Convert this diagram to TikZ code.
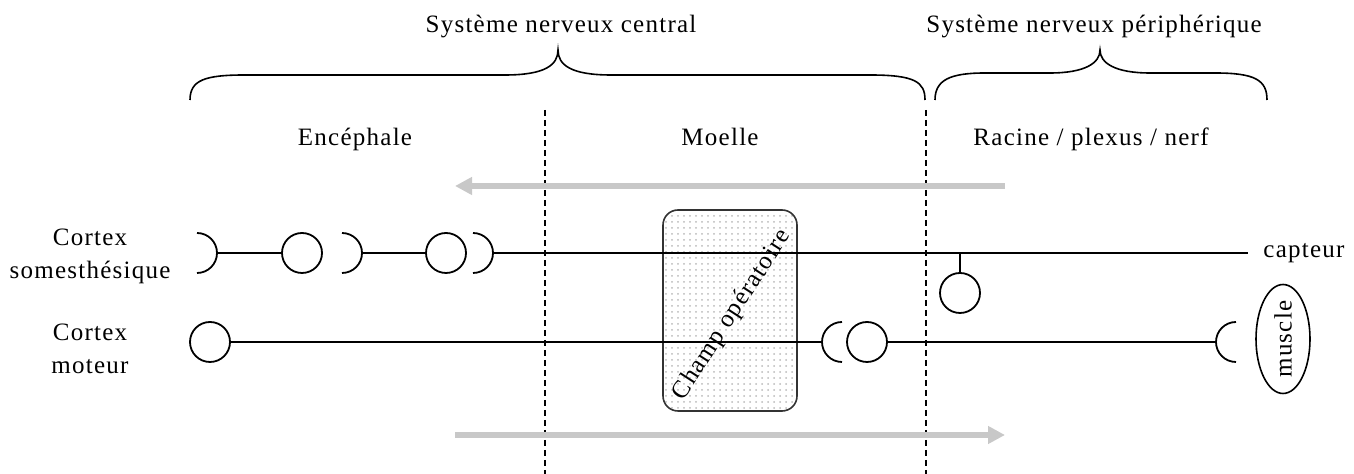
\documentclass[tikz,border=0pt]{standalone}
\usepackage{fontspec}
\setmainfont{Liberation Serif}[LetterSpace=5]
\usetikzlibrary{arrows.meta,patterns,shapes.geometric}
\definecolor{flowgray}{RGB}{200,200,200}
\begin{document}
\begin{tikzpicture}[x=0.5pt,y=-0.5pt,
  font=\fontsize{12.5}{16.5}\selectfont,
  neuron/.style={circle,draw,line width=0.9pt,minimum size=20pt,inner sep=0pt},
  axon/.style={line width=0.9pt},
  synapse/.style={line width=0.9pt},
  flow/.style={draw=flowgray,line width=3pt,-{Triangle[length=8.5pt,width=8.5pt]}},
  border/.style={dash pattern=on 3pt off 2pt,line width=0.6pt},
  bracepath/.style={line width=0.8pt},
  lbl/.style={inner sep=0pt}]
\useasboundingbox (0,0) rectangle (1354,474);

% titles
\node[lbl,anchor=base] (snc) at (561,33) {Système nerveux central};
\node[lbl,anchor=base] (snp) at (1094,33) {Système nerveux périphérique};
\node[lbl,anchor=base] (enc) at (355,146) {Encéphale};
\node[lbl,anchor=base] (moe) at (720,146) {Moelle};
\node[lbl,anchor=base] (rac) at (1091,146) {Racine / plexus / nerf};

% braces
\draw[bracepath] (190,100) .. controls (190,80) and (205,75) .. (245,75) -- (505,75)
  .. controls (545,75) and (558,65) .. (558,50)
  .. controls (558,65) and (571,75) .. (611,75) -- (870,75)
  .. controls (915,75) and (925,82) .. (925,100);
\draw[bracepath] (935,100) .. controls (935,80) and (950,73) .. (985,73) -- (1050,73)
  .. controls (1085,73) and (1100,63) .. (1100,50)
  .. controls (1100,63) and (1115,73) .. (1150,73) -- (1215,73)
  .. controls (1255,73) and (1267,80) .. (1267,100);

% boundaries
\coordinate (d1t) at (545,110); \coordinate (d1b) at (545,474);
\coordinate (d2t) at (926,110); \coordinate (d2b) at (926,474);
\draw[border] (d1t) -- (d1b);
\draw[border] (d2t) -- (d2b);

% flows
\coordinate (ft1) at (1005,186); \coordinate (fh1) at (455,186);
\coordinate (ft2) at (455,435); \coordinate (fh2) at (1005,435);
\draw[flow] (ft1) -- (fh1);
\draw[flow] (ft2) -- (fh2);

% operative field
\node[draw=black!80,line width=0.8pt,rounded corners=7.5pt,pattern=dots,pattern color=gray!55,
  minimum width=67pt,minimum height=100.5pt,inner sep=0pt] (field) at (730,310.5) {};

% row labels
\node[lbl,align=center] (cs) at (90,256) {Cortex\\somesthésique};
\node[lbl,align=center] (cm) at (90,349) {Cortex\\moteur};

% sensory pathway
\coordinate (s1) at (217,253);
\node[neuron] (c1) at (302,253) {};
\coordinate (s2) at (362,253);
\node[neuron] (c2) at (446,253) {};
\coordinate (s3) at (493,253);
\coordinate (cap) at (1248,253);
\coordinate (br) at (960,253);
\node[neuron] (c3) at (960,293) {};
\node[lbl,anchor=base west] (capt) at (1263,258) {capteur};

\draw[synapse] (s1) ++(-20,-20) arc[start angle=90,end angle=-90,radius=10pt];
\draw[synapse] (s2) ++(-20,-20) arc[start angle=90,end angle=-90,radius=10pt];
\draw[synapse] (s3) ++(-20,-20) arc[start angle=90,end angle=-90,radius=10pt];
\draw[axon] (s1) -- (c1);
\draw[axon] (s2) -- (c2);
\draw[axon] (s3) -- (cap);
\draw[axon] (br) -- (c3);

% motor pathway
\node[neuron] (m1) at (210,342) {};
\coordinate (s4) at (822,342);
\node[neuron] (m2) at (867,342) {};
\coordinate (s5) at (1216,342);
\draw[synapse] (s4) ++(20,-20) arc[start angle=90,end angle=270,radius=10pt];
\draw[synapse] (s5) ++(20,-20) arc[start angle=90,end angle=270,radius=10pt];
\draw[axon] (m1) -- (s4);
\draw[axon] (m2) -- (s5);
\node[draw,ellipse,line width=0.8pt,rotate=90,minimum width=49pt,minimum height=27pt,inner sep=0pt] (mus) at (1283,339) {muscle};

% field label
\node[lbl,rotate=57] (fl) at (732,315) {Champ opératoire};
\end{tikzpicture}
\end{document}
